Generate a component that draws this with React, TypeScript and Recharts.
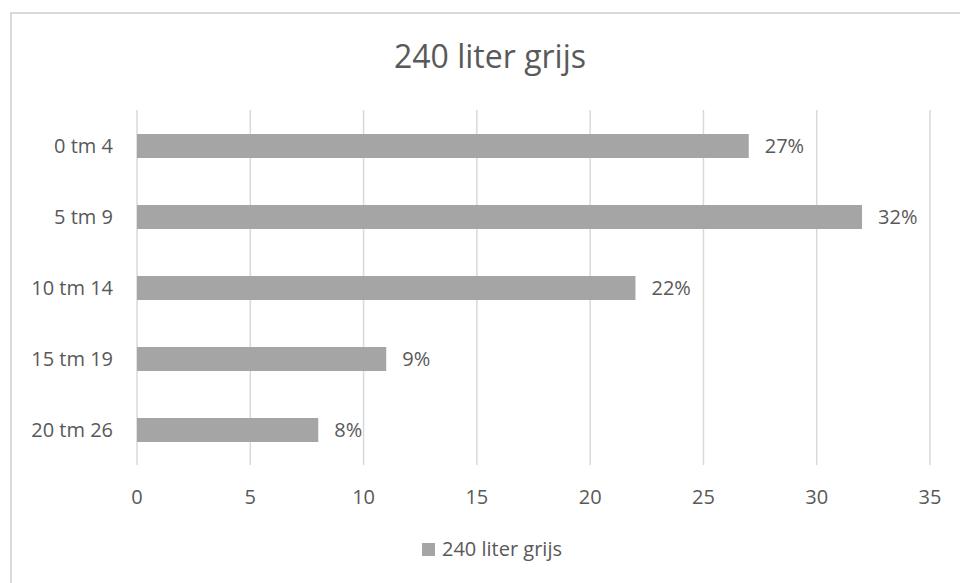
import React from "react";
import { BarChart, Bar, XAxis, YAxis, CartesianGrid, LabelList } from "recharts";

const CATEGORIES = ["0 tm 4", "5 tm 9", "10 tm 14", "15 tm 19", "20 tm 26"];
const VALUES = [27, 32, 22, 11, 8];
const LABELS = ["27%", "32%", "22%", "9%", "8%"];
const X_TICKS = [0, 5, 10, 15, 20, 25, 30, 35];
const SERIES_NAME = "240 liter grijs";

const FONT = "'Open Sans', 'Liberation Sans', sans-serif";
const TEXT = "#595959";
const GRID = "#d9d9d9";
const BAR = "#a5a5a5";

const data = CATEGORIES.map((name, i) => ({ name, value: VALUES[i], label: LABELS[i] }));

export default function App() {
  return (
    <div
      style={{
        position: "absolute",
        left: 0,
        top: 0,
        width: 960,
        height: 583,
        overflow: "hidden",
        background: "#fff",
        fontFamily: FONT,
      }}
    >
      <div
        style={{
          position: "absolute",
          left: 10,
          top: 12,
          width: 970,
          height: 600,
          border: `2px solid ${GRID}`,
        }}
      />
      <div
        style={{
          position: "absolute",
          left: 10,
          top: 40,
          width: 960,
          textAlign: "center",
          fontSize: 32,
          lineHeight: 1,
          color: TEXT,
        }}
      >
        {SERIES_NAME}
      </div>
      <BarChart
        width={960}
        height={583}
        data={data}
        layout="vertical"
        margin={{ top: 110, right: 30, left: 0, bottom: 78 }}
        style={{ position: "absolute", left: 0, top: 0 }}
      >
        <CartesianGrid horizontal={false} stroke={GRID} strokeWidth={1.5} />
        <XAxis
          type="number"
          domain={[0, 35]}
          ticks={X_TICKS}
          axisLine={false}
          tickLine={false}
          tickSize={0}
          tickMargin={25}
          height={40}
          tick={{ fill: TEXT, fontSize: 20, fontFamily: FONT }}
        />
        <YAxis
          type="category"
          dataKey="name"
          width={137}
          axisLine={false}
          tickLine={false}
          tickSize={0}
          tickMargin={24}
          tick={{ fill: TEXT, fontSize: 20, fontFamily: FONT }}
        />
        <Bar dataKey="value" fill={BAR} barSize={24} isAnimationActive={false}>
          <LabelList
            dataKey="label"
            position="right"
            offset={16}
            fill={TEXT}
            fontSize={20}
            fontFamily={FONT}
          />
        </Bar>
      </BarChart>
      <div
        style={{
          position: "absolute",
          left: 422,
          top: 539,
          display: "flex",
          alignItems: "center",
          fontSize: 20,
          lineHeight: 1,
          color: TEXT,
        }}
      >
        <span style={{ width: 13, height: 13, background: BAR, marginRight: 7, display: "inline-block" }} />
        {SERIES_NAME}
      </div>
    </div>
  );
}
